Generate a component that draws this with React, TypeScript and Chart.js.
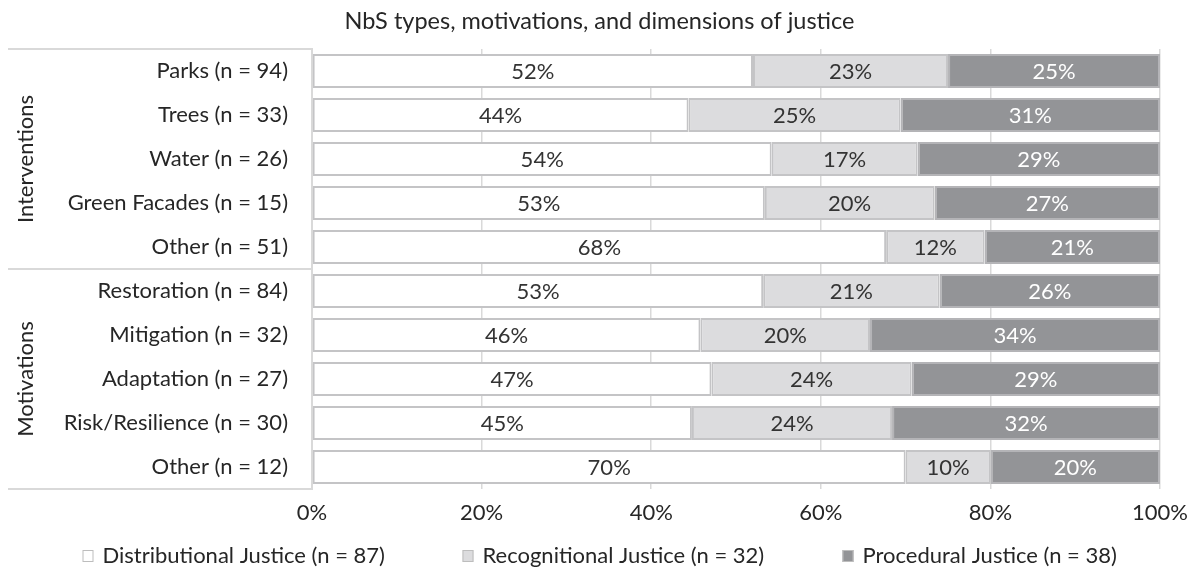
import React, { useEffect, useRef } from 'react';
import { Chart, registerables } from 'chart.js';

Chart.register(...registerables);

const chartTitle = 'NbS types, motivations, and dimensions of justice';
const categories = [
  'Parks (n = 94)',
  'Trees (n = 33)',
  'Water (n = 26)',
  'Green Facades (n = 15)',
  'Other (n = 51)',
  'Restoration (n = 84)',
  'Mitigation (n = 32)',
  'Adaptation (n = 27)',
  'Risk/Resilience (n = 30)',
  'Other (n = 12)',
];
const groupNames = ['Interventions', 'Motivations'];
const groupSizes = [5, 5];
const seriesNames = [
  'Distributional Justice (n = 87)',
  'Recognitional Justice (n = 32)',
  'Procedural Justice (n = 38)',
];
const distributional = [52.0, 44.4, 54.2, 53.4, 67.7, 53.2, 45.8, 47.1, 44.8, 70.0];
const recognitional = [23.0, 25.0, 17.2, 20.0, 11.6, 20.8, 20.0, 23.6, 23.6, 10.0];
const procedural = [25.0, 30.6, 28.6, 26.6, 20.7, 26.0, 34.2, 29.3, 31.6, 20.0];
const xMin = 0;
const xMax = 100;
const xStep = 20;

const FONT = 'Lato, "Open Sans", sans-serif';
const FONT_SIZE = 22;
const TITLE_SIZE = 23.5;
const TEXT = '#262626';
const GRID = '#d9d9d9';
const fills = ['#ffffff', '#dcdcde', '#939497'];
const borders = ['#c4c4c6', '#c4c4c6', '#b4b4b7'];
const labelColors = ['#333333', '#333333', '#ffffff'];

const overlay = {
  id: 'overlay',
  afterDatasetsDraw(chart: any) {
    const ctx = chart.ctx;
    ctx.save();
    ctx.font = `${FONT_SIZE}px ${FONT}`;
    ctx.textAlign = 'center';
    ctx.textBaseline = 'middle';
    chart.data.datasets.forEach((ds: any, i: number) => {
      const meta = chart.getDatasetMeta(i);
      meta.data.forEach((bar: any, j: number) => {
        const p = bar.getProps(['x', 'y', 'base'], true);
        ctx.fillStyle = labelColors[i];
        ctx.fillText(Math.round(ds.data[j]) + '%', (p.x + p.base) / 2, p.y + 1);
      });
    });
    ctx.restore();
  },
  afterDraw(chart: any) {
    const ctx = chart.ctx;
    const area = chart.chartArea;
    ctx.save();
    // title
    ctx.font = `${TITLE_SIZE}px ${FONT}`;
    ctx.fillStyle = TEXT;
    ctx.textAlign = 'center';
    ctx.textBaseline = 'middle';
    ctx.fillText(chartTitle, chart.width / 2, 21);

    ctx.font = `${FONT_SIZE}px ${FONT}`;
    // group separators and labels
    ctx.strokeStyle = GRID;
    ctx.lineWidth = 2;
    const step = (area.bottom - area.top) / categories.length;
    let idx = 0;
    const bounds: number[] = [area.top];
    groupSizes.forEach((n) => {
      idx += n;
      bounds.push(area.top + idx * step);
    });
    bounds.forEach((yy) => {
      ctx.beginPath();
      ctx.moveTo(8, yy);
      ctx.lineTo(area.left, yy);
      ctx.stroke();
    });
    ctx.fillStyle = TEXT;
    groupNames.forEach((g, k) => {
      const cy = (bounds[k] + bounds[k + 1]) / 2;
      ctx.save();
      ctx.translate(26, cy);
      ctx.rotate(-Math.PI / 2);
      ctx.fillText(g, 0, 0);
      ctx.restore();
    });

    // legend
    const cx = chart.width / 2;
    const slot = 380;
    const ly = 556;
    seriesNames.forEach((name, i) => {
      const x0 = cx - 517 + i * slot;
      ctx.fillStyle = fills[i];
      ctx.fillRect(x0, ly - 6, 11, 12);
      ctx.strokeStyle = '#bdbdbd';
      ctx.lineWidth = 1;
      ctx.strokeRect(x0 + 0.5, ly - 5.5, 10, 11);
      ctx.fillStyle = TEXT;
      ctx.textAlign = 'left';
      ctx.fillText(name, x0 + 20, ly);
    });
    ctx.restore();
  },
};

export default function App() {
  const ref = useRef<HTMLCanvasElement | null>(null);
  useEffect(() => {
    document.body.style.margin = '0';
    const canvas = ref.current!;
    const chart = new Chart(canvas, {
      type: 'bar',
      data: {
        labels: categories,
        datasets: [distributional, recognitional, procedural].map((d, i) => ({
          label: seriesNames[i],
          data: d,
          backgroundColor: fills[i],
          borderColor: borders[i],
          borderWidth: 2,
          borderSkipped: false,
          barPercentage: 0.773,
          categoryPercentage: 1,
        })),
      },
      options: {
        indexAxis: 'y',
        responsive: false,
        animation: false,
        devicePixelRatio: 1,
        layout: { padding: { top: 49, right: 36, left: 0, bottom: 0 } },
        scales: {
          x: {
            stacked: true,
            min: xMin,
            max: xMax,
            ticks: {
              stepSize: xStep,
              callback: (v: any) => v + '%',
              font: { family: FONT, size: FONT_SIZE },
              color: TEXT,
              padding: 11,
              maxRotation: 0,
            },
            grid: { color: GRID, lineWidth: 1.5, drawTicks: false },
            border: { display: false },
            afterFit: (s: any) => {
              s.height = 87;
            },
          },
          y: {
            stacked: true,
            grid: { display: false, drawTicks: false },
            border: { display: true, color: GRID, width: 2 },
            ticks: {
              font: { family: FONT, size: FONT_SIZE },
              color: TEXT,
              padding: 24,
            },
            afterFit: (s: any) => {
              s.width = 312;
            },
          },
        },
        plugins: {
          legend: { display: false },
          title: { display: false },
          tooltip: { enabled: false },
        },
      },
      plugins: [overlay],
    });
    return () => chart.destroy();
  }, []);
  return <canvas ref={ref} width={1199} height={576} style={{ display: 'block' }} />;
}
